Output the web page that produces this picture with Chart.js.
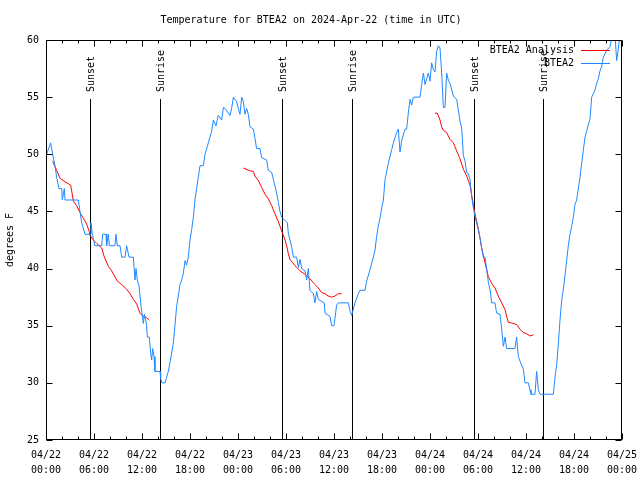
<!DOCTYPE html>
<html>
<head>
<meta charset="utf-8">
<script src="https://cdn.jsdelivr.net/npm/chart.js@4/dist/chart.umd.min.js"></script>
<style>
  body { margin: 0; background: #fff; }
  canvas { display: block; }
</style>
</head>
<body>
<canvas id="grafico" width="640" height="480"></canvas>
<script>
// hours since 04/22 00:00 UTC
let obsHours = [0.08, 0.58, 0.83, 1.12, 1.33, 1.62, 1.96, 2.04, 2.29, 2.38, 4.04, 4.25, 4.46, 4.88, 5.5, 5.62, 5.8, 6.1, 6.96, 7.08, 7.5, 7.58, 7.79, 7.92, 8.62, 8.75, 8.92, 9.25, 9.46, 9.88, 10.08, 10.38, 10.92, 11.12, 11.25, 11.42, 11.62, 11.88, 12.17, 12.29, 12.46, 12.58, 12.67, 12.92, 13.08, 13.21, 13.33, 13.5, 13.62, 14.25, 14.33, 14.46, 14.88, 15.08, 15.29, 15.5, 15.71, 15.92, 16.12, 16.33, 16.54, 16.75, 16.96, 17.17, 17.38, 17.58, 17.79, 18.0, 18.21, 18.42, 18.62, 18.83, 19.04, 19.25, 19.67, 19.88, 20.29, 20.71, 20.92, 21.25, 21.54, 21.96, 22.17, 22.38, 23.0, 23.2, 23.42, 23.83, 24.04, 24.25, 24.46, 24.67, 24.88, 25.08, 25.29, 25.5, 25.92, 26.12, 26.33, 26.75, 26.96, 27.58, 27.79, 28.21, 28.42, 28.83, 29.04, 29.25, 29.46, 30.17, 30.29, 30.71, 30.92, 31.33, 31.54, 31.75, 31.96, 32.38, 32.58, 32.79, 33.0, 33.42, 33.62, 33.83, 34.04, 34.79, 34.88, 35.5, 35.71, 36.0, 36.33, 36.54, 37.79, 38.0, 38.21, 38.62, 39.04, 39.25, 39.88, 40.08, 40.5, 40.92, 41.12, 41.33, 41.54, 41.75, 41.96, 42.17, 42.38, 42.79, 43.21, 43.42, 43.83, 44.04, 44.25, 44.46, 44.88, 45.08, 45.29, 45.5, 45.71, 45.92, 46.75, 46.96, 47.17, 47.38, 47.58, 47.79, 48.0, 48.21, 48.42, 48.62, 48.83, 49.04, 49.25, 49.46, 49.67, 49.88, 50.08, 50.29, 50.5, 50.92, 51.33, 51.54, 51.75, 51.96, 52.17, 52.38, 52.58, 52.79, 53.0, 53.21, 53.42, 53.62, 53.83, 54.04, 54.25, 54.46, 54.67, 54.88, 55.08, 55.29, 55.5, 55.71, 56.12, 56.33, 56.75, 56.96, 57.17, 57.38, 57.58, 58.62, 58.83, 59.04, 59.25, 59.67, 59.88, 60.29, 60.5, 60.62, 61.12, 61.33, 61.54, 61.75, 63.42, 63.62, 63.83, 64.04, 64.25, 64.46, 64.67, 64.88, 65.08, 65.29, 65.5, 65.71, 65.92, 66.12, 66.33, 66.75, 67.17, 67.38, 67.58, 67.79, 68.0, 68.21, 68.62, 68.83, 69.04, 69.25, 69.46, 69.67, 70.08, 70.5, 70.71, 71.12, 71.33, 71.54, 71.75];
let obsTemps = [50, 51, 50, 49, 48, 47, 47, 46, 47, 46, 46, 45, 44, 43, 43, 44, 43, 42, 42, 43, 43, 42, 43, 42, 42, 43, 42, 42, 41, 41, 42, 41, 41, 39, 40, 39, 38.5, 36.7, 35.2, 36, 35.5, 35, 34, 34, 32.6, 32, 33, 32.3, 31, 31, 30.4, 30, 30, 30.5, 31, 31.8, 32.6, 33.5, 35, 36.7, 37.6, 38.6, 39, 39.6, 40.7, 40.3, 41, 42.5, 43.4, 44.5, 46, 47, 48, 49, 49, 50, 51, 52, 53, 52.5, 53.4, 53, 54.1, 54, 53.4, 54, 55, 54.6, 54, 53.5, 55, 54.6, 53.5, 54, 53.5, 52.4, 52.2, 51.4, 50.5, 50.5, 49.7, 49.5, 48.6, 48.4, 47.8, 46.6, 45.8, 45, 44.5, 44, 43.1, 41.9, 41, 41, 40.1, 40.8, 40, 39.8, 39, 40, 38.1, 37.8, 37, 38, 37.3, 37, 36.1, 35.8, 35, 35, 36.8, 37, 37, 36.3, 35.9, 37, 37.8, 38.1, 38.1, 38.9, 39.9, 41, 41.6, 42.8, 43.7, 44.4, 45.3, 46, 47.8, 49.2, 50.4, 51, 51.9, 52.2, 50.2, 51.2, 52.2, 52.2, 53.6, 54.8, 54.3, 55, 55, 56.1, 57.1, 56.1, 56.6, 57.1, 56.4, 58, 57.4, 57.2, 59, 59.5, 59.3, 57.1, 54.1, 54.1, 57.1, 56.5, 56.2, 55.1, 54.8, 53.9, 52.9, 52.3, 49.9, 49.4, 48.4, 48.3, 47.8, 46.3, 45.3, 44.6, 44, 43.4, 42.7, 41.8, 41, 41, 40, 38.8, 38.2, 37, 37, 36.1, 36, 34.7, 33.2, 34, 33, 33, 34, 32.3, 31.9, 31.2, 30, 30, 29.4, 29, 29, 31, 29.4, 29, 29, 30.5, 31.5, 33.4, 35.5, 37.2, 38.2, 39.4, 40.7, 42, 43, 43.7, 44.5, 45.6, 46, 48, 50.4, 51.5, 52, 52.6, 53.1, 55, 55.6, 56.2, 56.6, 57.3, 57.7, 58.5, 59.1, 59.4, 60.2, 60.5, 58.2, 59.2, 60.5];

// analysis runs, null = gap between runs
let anaHours = [0.83, 1.33, 1.75, 2.38, 3.08, 3.21, 3.42, 3.83, 4.25, 4.67, 5.08, 5.38, 5.5, 5.92, 6.33, 6.96, 7.25, 7.79, 8.21, 8.92, 9.46, 10.08, 10.5, 10.92, 11.33, 11.75, 12.17, 12.58, 12.92,
  18,
  24.67, 25.29, 25.92, 26.12, 26.54, 26.96, 27.38, 27.79, 28.21, 28.62, 29.04, 29.46, 29.88, 30.08, 30.29, 30.5, 30.83, 31.33, 31.75, 32.38, 33.0, 33.62, 34.04, 34.46, 34.88, 35.29, 35.71, 36.12, 36.54, 36.96,
  42,
  48.62, 48.92, 49.25, 49.46, 49.67, 50.08, 50.5, 50.92, 51.33, 51.75, 52.17, 52.58, 53.0, 53.21, 53.42, 53.62, 54.04, 54.46, 54.88, 55.29, 55.71, 56.12, 56.54, 56.96, 57.38, 57.58, 57.79, 58.42, 58.83, 59.25, 59.67, 60.08, 60.5, 60.92];
let anaTemps = [49.4, 48.6, 47.9, 47.6, 47.3, 46.8, 45.9, 45.5, 44.9, 44.4, 43.9, 43.3, 42.9, 42.5, 42.2, 41.8, 41.1, 40.2, 39.8, 38.9, 38.6, 38.2, 37.8, 37.3, 36.9, 36.1, 35.8, 35.7, 35.5,
  null,
  48.8, 48.6, 48.5, 48.1, 47.7, 47.1, 46.5, 46.1, 45.5, 44.8, 44.1, 43.3, 42.5, 42, 41.3, 40.8, 40.5, 40.1, 39.8, 39.5, 39.1, 38.6, 38.3, 37.9, 37.8, 37.6, 37.5, 37.6, 37.8, 37.8,
  null,
  53.6, 53.6, 53, 52.4, 52.1, 51.9, 51.3, 51, 50.3, 49.6, 48.7, 48.1, 47.3, 46.4, 45.6, 44.8, 43.5, 41.8, 40.5, 39.3, 38.7, 38.3, 37.6, 37, 36.4, 35.8, 35.3, 35.2, 35.1, 34.7, 34.4, 34.3, 34.1, 34.2];

let tickLabels = [['04/22', '00:00'], ['04/22', '06:00'], ['04/22', '12:00'], ['04/22', '18:00'],
  ['04/23', '00:00'], ['04/23', '06:00'], ['04/23', '12:00'], ['04/23', '18:00'],
  ['04/24', '00:00'], ['04/24', '06:00'], ['04/24', '12:00'], ['04/24', '18:00'], ['04/25', '00:00']];

let sunHours = [5.53, 14.28, 29.53, 38.22, 53.53, 62.1];
let sunNames = ['Sunset', 'Sunrise', 'Sunset', 'Sunrise', 'Sunset', 'Sunrise'];

let fonte = 'DejaVu Sans Mono';
let azul = '#1e88ff';
let vermelho = '#ff0000';

function pontos(hs, ts) {
  return hs.map((h, i) => ({x: h, y: ts[i]}));
}

// gnuplot look: box, inward tics, sun lines, key
let enfeites = {
  id: 'enfeites',
  beforeDatasetsDraw(chart) {
    let {ctx, chartArea: a, scales: {x}} = chart;
    ctx.save();
    ctx.strokeStyle = '#000';
    ctx.lineWidth = 1;
    ctx.fillStyle = '#000';
    ctx.font = '10px "' + fonte + '"';
    sunHours.forEach((h, i) => {
      let px = Math.round(x.getPixelForValue(h)) + 0.5;
      ctx.beginPath();
      ctx.moveTo(px, 99);
      ctx.lineTo(px, a.bottom);
      ctx.stroke();
      ctx.save();
      ctx.translate(px + 1, 92);
      ctx.rotate(-Math.PI / 2);
      ctx.textAlign = 'left';
      ctx.textBaseline = 'middle';
      ctx.fillText(sunNames[i], 0, 0);
      ctx.restore();
    });
    ctx.restore();
  },
  afterDraw(chart) {
    let {ctx, chartArea: a, scales: {x, y}} = chart;
    ctx.save();
    ctx.strokeStyle = '#000';
    ctx.lineWidth = 1;
    let l = Math.round(a.left) + 0.5, r = Math.round(a.right) - 0.5;
    let t = Math.round(a.top) + 0.5, b = Math.round(a.bottom) - 0.5;
    ctx.strokeRect(l, t, r - l, b - t);
    ctx.beginPath();
    for (let h = 0; h <= 72; h += 2) {
      let px = Math.round(x.getPixelForValue(h)) + 0.5;
      let len = h % 6 === 0 ? 6 : 3;
      ctx.moveTo(px, b); ctx.lineTo(px, b - len);
      ctx.moveTo(px, t); ctx.lineTo(px, t + len);
    }
    for (let v = 25; v <= 60; v += 5) {
      let py = Math.round(y.getPixelForValue(v)) + 0.5;
      ctx.moveTo(l, py); ctx.lineTo(l + 6, py);
      ctx.moveTo(r, py); ctx.lineTo(r - 6, py);
    }
    ctx.stroke();

    // key
    ctx.font = '10px "' + fonte + '"';
    ctx.textAlign = 'right';
    ctx.textBaseline = 'middle';
    ctx.fillStyle = '#000';
    let linhas = [['BTEA2 Analysis', vermelho, 50.5], ['BTEA2', azul, 63.5]];
    linhas.forEach(([txt, cor, py]) => {
      ctx.fillText(txt, 574, py);
      ctx.strokeStyle = cor;
      ctx.beginPath();
      ctx.moveTo(581, py);
      ctx.lineTo(610, py);
      ctx.stroke();
    });
    ctx.restore();
  }
};

let ctx = document.getElementById('grafico');

let grafico = new Chart(ctx, {
  type: 'line',
  data: {
    datasets: [{
      label: 'BTEA2 Analysis',
      data: pontos(anaHours, anaTemps),
      borderColor: vermelho,
      borderWidth: 1,
      pointRadius: 0,
      spanGaps: false,
      order: 1
    }, {
      label: 'BTEA2',
      data: pontos(obsHours, obsTemps),
      borderColor: azul,
      borderWidth: 1,
      pointRadius: 0,
      order: 0
    }]
  },
  options: {
    responsive: false,
    animation: false,
    layout: { padding: { left: 0, right: 18, top: 0, bottom: 0 } },
    plugins: {
      legend: { display: false },
      tooltip: { enabled: false },
      title: {
        display: true,
        text: 'Temperature for BTEA2 on 2024-Apr-22 (time in UTC)',
        color: '#000',
        font: { family: fonte, size: 10, weight: 'normal' },
        padding: { top: 14, bottom: 14 }
      }
    },
    scales: {
      x: {
        type: 'linear',
        min: 0,
        max: 72,
        grid: { display: false, drawTicks: false },
        border: { display: false },
        ticks: {
          stepSize: 6,
          autoSkip: false,
          maxRotation: 0,
          padding: 8,
          color: '#000',
          font: { family: fonte, size: 10, lineHeight: 1.5 },
          callback: (v) => tickLabels[Math.round(v / 6)]
        },
        afterFit(s) {
          s.height = 40;
          s.paddingLeft = 0;
          s.paddingRight = 0;
        }
      },
      y: {
        min: 25,
        max: 60,
        grid: { display: false, drawTicks: false },
        border: { display: false },
        ticks: {
          stepSize: 5,
          padding: 7,
          color: '#000',
          font: { family: fonte, size: 10 }
        },
        title: {
          display: true,
          text: 'degrees F',
          color: '#000',
          font: { family: fonte, size: 10 },
          padding: { top: 4, bottom: 0 }
        },
        afterFit(s) {
          s.width = 46;
          s.paddingTop = 0;
          s.paddingBottom = 0;
        }
      }
    }
  },
  plugins: [enfeites]
});
</script>
</body>
</html>
